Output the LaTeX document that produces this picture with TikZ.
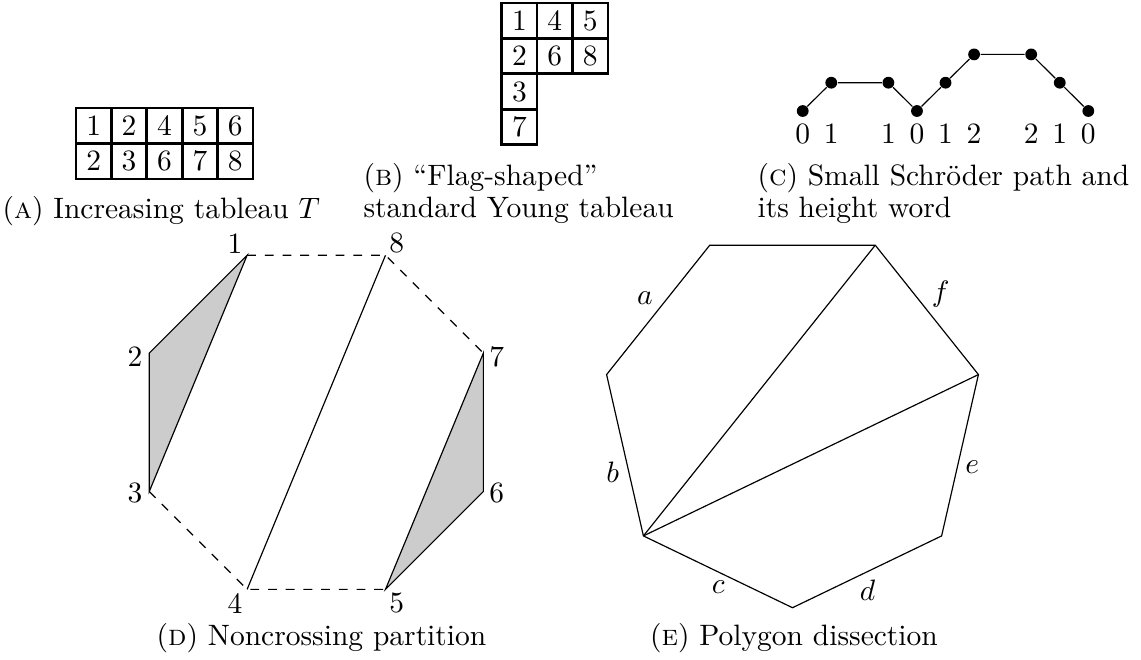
\documentclass[tikz,border=0pt]{standalone}
\begin{document}
\begin{tikzpicture}[x=0.33898pt,y=-0.33898pt,
  cell/.style={draw,line width=0.9pt,minimum size=12pt,inner sep=0pt},
  pdot/.style={circle,fill=black,inner sep=0pt,minimum size=4pt},
  capt/.style={anchor=base west,inner sep=0pt},
  captc/.style={anchor=base,inner sep=0pt},
  lab/.style={inner sep=0pt},
  shade/.style={fill=black!20,draw=black},
  dashedge/.style={dashed}]
\useasboundingbox (0,0) rectangle (1141,659);
% (A) increasing tableau
\foreach \v [count=\i] in {1,2,4,5,6}{
  \node[cell] (ta1\i) at ({76+35.4*(\i-0.5)},125.75) {\v};}
\foreach \v [count=\i] in {2,3,6,7,8}{
  \node[cell] (ta2\i) at ({76+35.4*(\i-0.5)},161.15) {\v};}
\node[capt] (capA) at (2,218) {(\textsc{a}) Increasing tableau $T$};
% (B) flag-shaped tableau
\foreach \v [count=\i] in {1,4,5}{
  \node[cell] (tb1\i) at ({501.7+35.4*(\i-0.5)},20.7) {\v};}
\foreach \v [count=\i] in {2,6,8}{
  \node[cell] (tb2\i) at ({501.7+35.4*(\i-0.5)},56.1) {\v};}
\node[cell] (tb31) at (519.4,91.5) {3};
\node[cell] (tb41) at (519.4,126.9) {7};
\node[capt] (capB1) at (363,185) {(\textsc{b}) “Flag-shaped”};
\node[capt] (capB2) at (363,217) {standard Young tableau};
% (C) small Schroeder path
\foreach \k/\h/\n in {0/0/p0,1/1/p1,3/1/p2,4/0/p3,5/1/p4,6/2/p5,8/2/p6,9/1/p7,10/0/p8}{
  \node[pdot] (\n) at ({802.7+28.56*\k},{111-28.3*\h}) {};}
\draw (p0)--(p1)--(p2)--(p3)--(p4)--(p5)--(p6)--(p7)--(p8);
\foreach \k/\h [count=\i] in {0/0,1/1,3/1,4/0,5/1,6/2,8/2,9/1,10/0}{
  \node[captc] (h\i) at ({802.7+28.56*\k},143) {\h};}
\node[capt] (capC1) at (757,185) {(\textsc{c}) Small Schröder path and};
\node[capt] (capC2) at (757,217) {its height word};
% (D) noncrossing partition
\coordinate (v1) at (247.11,255.26);
\coordinate (v8) at (385.49,255.26);
\coordinate (v7) at (483.34,353.11);
\coordinate (v6) at (483.34,491.49);
\coordinate (v5) at (385.49,589.34);
\coordinate (v4) at (247.11,589.34);
\coordinate (v3) at (149.26,491.49);
\coordinate (v2) at (149.26,353.11);
\draw[shade] (v1)--(v2)--(v3)--cycle;
\draw[shade] (v5)--(v6)--(v7)--cycle;
\draw (v8)--(v4);
\draw[dashedge] (v1)--(v8)--(v7);
\draw[dashedge] (v3)--(v4)--(v5);
\node[lab] (l1) at (235,243.3) {1};
\node[lab] (l8) at (396.7,243.3) {8};
\node[lab] (l7) at (496.7,356.7) {7};
\node[lab] (l6) at (496.7,493.3) {6};
\node[lab] (l5) at (396.7,603.3) {5};
\node[lab] (l4) at (235,603.3) {4};
\node[lab] (l3) at (135,493.3) {3};
\node[lab] (l2) at (135,356.7) {2};
\node[captc] (capD) at (321.5,645) {(\textsc{d}) Noncrossing partition};
% (E) polygon dissection
\coordinate (w0) at (792.5,607.7);
\coordinate (w1) at (941.6,535.9);
\coordinate (w2) at (978.42,374.57);
\coordinate (w3) at (875.24,245.18);
\coordinate (w4) at (709.76,245.18);
\coordinate (w5) at (606.58,374.57);
\coordinate (w6) at (643.4,535.9);
\draw (w0)--(w1)--(w2)--(w3)--(w4)--(w5)--(w6)--cycle;
\draw (w6)--(w3);
\draw (w6)--(w2);
\node[lab] (ea) at (645,298.3) {$a$};
\node[lab] (eb) at (612.7,472) {$b$};
\node[lab] (ec) at (718.3,586.7) {$c$};
\node[lab] (ed) at (867.5,590.7) {$d$};
\node[lab] (ee) at (972.3,467.3) {$e$};
\node[lab] (ef) at (940.7,294) {$f$};
\node[captc] (capE) at (794,645) {(\textsc{e}) Polygon dissection};
\end{tikzpicture}
\end{document}
